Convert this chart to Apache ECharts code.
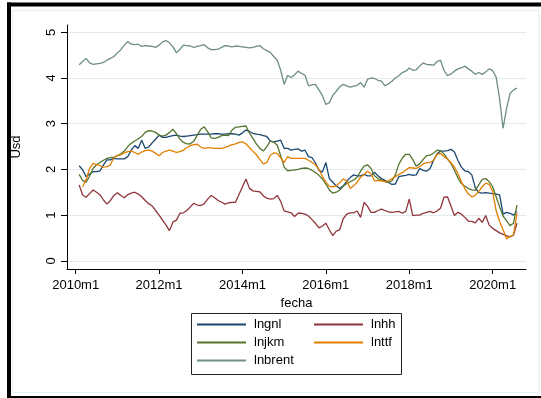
<!DOCTYPE html>
<html>
<head>
<meta charset="utf-8">
<script src="https://cdn.jsdelivr.net/npm/echarts@6/dist/echarts.min.js"></script>
<style>
  html, body { margin: 0; padding: 0; background: #fff; }
  #chart { width: 541px; height: 398px; }
</style>
</head>
<body>
<div id="chart"></div>
<script>
// Monthly log prices; month index counted from 2010m1 = 0, first observation 2010m2
const firstMonth = 1;

const lngnl = [
  2.08, 1.99, 1.84, 1.90, 1.95, 1.95, 1.97, 2.10, 2.21, 2.21,
  2.24, 2.23, 2.23, 2.23, 2.28, 2.42, 2.52, 2.46, 2.64, 2.46,
  2.49, 2.58, 2.66, 2.75, 2.70, 2.70, 2.72, 2.74, 2.75, 2.73,
  2.72, 2.73, 2.74, 2.75, 2.76, 2.77, 2.77, 2.77, 2.77, 2.78,
  2.78, 2.77, 2.77, 2.78, 2.78, 2.77, 2.75, 2.80, 2.86, 2.83,
  2.79, 2.77, 2.76, 2.74, 2.72, 2.62, 2.60, 2.62, 2.64, 2.46,
  2.46, 2.42, 2.44, 2.45, 2.40, 2.42, 2.28, 2.26, 2.14, 1.98,
  1.94, 2.15, 1.80, 1.72, 1.64, 1.58, 1.64, 1.74, 1.82, 1.88,
  1.86, 1.86, 1.89, 1.86, 1.86, 1.94, 1.86, 1.80, 1.76, 1.72,
  1.67, 1.68, 1.84, 1.86, 1.87, 1.89, 1.87, 1.88, 2.02, 1.98,
  1.96, 2.02, 2.20, 2.34, 2.40, 2.40, 2.41, 2.44, 2.38, 2.20,
  2.05, 1.97, 1.95, 1.88, 1.60, 1.49, 1.48, 1.49, 1.48, 1.47,
  1.46, 1.44, 1.02, 1.06, 1.04, 1.00, 1.08
];

const lnhh = [
  1.66, 1.44, 1.39, 1.47, 1.55, 1.50, 1.44, 1.33, 1.24, 1.32,
  1.43, 1.49, 1.43, 1.38, 1.45, 1.48, 1.50, 1.46, 1.40, 1.32,
  1.25, 1.20, 1.10, 1.00, 0.89, 0.78, 0.66, 0.85, 0.89, 1.04,
  1.05, 1.10, 1.18, 1.26, 1.22, 1.21, 1.25, 1.35, 1.43, 1.38,
  1.32, 1.28, 1.24, 1.27, 1.28, 1.28, 1.45, 1.62, 1.79, 1.59,
  1.53, 1.52, 1.51, 1.42, 1.37, 1.35, 1.36, 1.43, 1.30, 1.09,
  1.07, 1.05, 0.97, 1.04, 1.04, 1.02, 0.98, 0.90, 0.82, 0.72,
  0.76, 0.82, 0.68, 0.55, 0.65, 0.68, 0.92, 1.02, 1.05, 1.05,
  1.09, 0.95, 1.28, 1.19, 1.06, 1.06, 1.10, 1.13, 1.10, 1.07,
  1.06, 1.07, 1.08, 1.04, 1.08, 1.35, 0.99, 1.00, 1.00, 1.04,
  1.06, 1.08, 1.05, 1.09, 1.15, 1.39, 1.40, 1.20, 0.99, 1.06,
  1.02, 0.95, 0.87, 0.86, 0.83, 0.93, 0.84, 0.99, 0.78, 0.71,
  0.66, 0.61, 0.58, 0.55, 0.52, 0.56, 0.82
];

const lnjkm = [
  1.89, 1.76, 1.72, 1.85, 2.02, 2.10, 2.15, 2.20, 2.24, 2.26,
  2.27, 2.30, 2.34, 2.40, 2.50, 2.57, 2.62, 2.67, 2.72, 2.81,
  2.85, 2.84, 2.81, 2.75, 2.73, 2.75, 2.81, 2.88, 2.78, 2.66,
  2.59, 2.56, 2.56, 2.62, 2.75, 2.88, 2.93, 2.82, 2.69, 2.68,
  2.70, 2.74, 2.75, 2.74, 2.86, 2.92, 2.93, 2.94, 2.95, 2.80,
  2.68, 2.56, 2.46, 2.40, 2.50, 2.62, 2.60, 2.53, 2.30, 2.05,
  1.97, 1.98, 1.99, 2.00, 2.02, 2.03, 2.02, 1.98, 1.93, 1.87,
  1.79, 1.68, 1.55, 1.48, 1.50, 1.55, 1.63, 1.69, 1.73, 1.77,
  1.83, 1.96, 2.07, 2.10, 2.02, 1.86, 1.80, 1.77, 1.73, 1.71,
  1.75, 1.88, 2.11, 2.25, 2.33, 2.33, 2.22, 2.07, 2.12, 2.22,
  2.30, 2.31, 2.36, 2.42, 2.41, 2.34, 2.23, 2.13, 1.98, 1.82,
  1.69, 1.63, 1.58, 1.55, 1.54, 1.66, 1.78, 1.80, 1.73, 1.62,
  1.40, 1.18, 0.98, 0.88, 0.77, 0.82, 1.22
];

const lnttf = [
  null, 1.62, 1.78, 2.02, 2.13, 2.11, 2.08, 2.05, 2.06, 2.10,
  2.26, 2.30, 2.32, 2.36, 2.39, 2.40, 2.37, 2.33, 2.38, 2.41,
  2.42, 2.40, 2.35, 2.30, 2.37, 2.40, 2.42, 2.40, 2.37, 2.39,
  2.42, 2.48, 2.52, 2.54, 2.55, 2.49, 2.46, 2.47, 2.47, 2.46,
  2.46, 2.46, 2.48, 2.51, 2.54, 2.56, 2.59, 2.60, 2.56, 2.48,
  2.40, 2.32, 2.22, 2.12, 2.15, 2.31, 2.36, 2.35, 2.25, 2.15,
  2.28, 2.24, 2.24, 2.24, 2.24, 2.24, 2.20, 2.15, 2.10, 2.00,
  1.85, 1.72, 1.63, 1.62, 1.64, 1.71, 1.79, 1.75, 1.58, 1.64,
  1.72, 1.83, 1.89, 1.96, 1.90, 1.75, 1.76, 1.75, 1.73, 1.75,
  1.80, 1.84, 1.89, 1.93, 1.98, 2.04, 2.03, 2.02, 2.06, 2.12,
  2.15, 2.15, 2.20, 2.33, 2.35, 2.28, 2.22, 2.15, 2.05, 1.91,
  1.73, 1.58, 1.46, 1.40, 1.43, 1.52, 1.62, 1.70, 1.67, 1.52,
  1.10, 0.86, 0.68, 0.48, 0.53, 0.57, 1.04
];

const lnbrent = [
  4.29, 4.36, 4.43, 4.33, 4.30, 4.31, 4.32, 4.34, 4.39, 4.43,
  4.47, 4.55, 4.62, 4.72, 4.80, 4.74, 4.73, 4.74, 4.69, 4.71,
  4.70, 4.69, 4.67, 4.72, 4.79, 4.82, 4.77, 4.68, 4.55, 4.63,
  4.72, 4.71, 4.70, 4.67, 4.69, 4.71, 4.73, 4.66, 4.62, 4.62,
  4.63, 4.67, 4.71, 4.70, 4.68, 4.70, 4.69, 4.68, 4.67, 4.66,
  4.67, 4.69, 4.71, 4.64, 4.60, 4.56, 4.47, 4.39, 4.17, 3.86,
  4.06, 4.01, 4.07, 4.15, 4.10, 4.06, 3.83, 3.85, 3.86, 3.74,
  3.62, 3.42, 3.46, 3.62, 3.71, 3.81, 3.86, 3.83, 3.80, 3.82,
  3.84, 3.90, 3.80, 3.97, 4.00, 3.99, 3.95, 3.93, 3.83, 3.87,
  3.93, 4.00, 4.05, 4.12, 4.15, 4.22, 4.17, 4.18, 4.26, 4.33,
  4.30, 4.29, 4.28, 4.36, 4.39, 4.17, 4.05, 4.09, 4.15, 4.20,
  4.22, 4.26, 4.20, 4.15, 4.08, 4.12, 4.08, 4.13, 4.20, 4.16,
  4.02, 3.55, 2.90, 3.33, 3.66, 3.74, 3.78
];

const seriesNames = ['lngnl', 'lnhh', 'lnjkm', 'lnttf', 'lnbrent'];
const seriesValues = [lngnl, lnhh, lnjkm, lnttf, lnbrent];
const seriesColors = ['#1a476f', '#90353b', '#55752f', '#e37e00', '#6e8e84'];

const xTickMonths = [0, 24, 48, 72, 96, 120];
const xTickLabels = ['2010m1', '2012m1', '2014m1', '2016m1', '2018m1', '2020m1'];
const yTicks = [0, 1, 2, 3, 4, 5];

const FONT = 'Liberation Sans, Arial, Helvetica, sans-serif';

const chart = echarts.init(document.getElementById('chart'), null, { renderer: 'canvas' });

const series = seriesNames.map((name, k) => ({
  name: name,
  type: 'line',
  symbol: 'none',
  smooth: false,
  connectNulls: false,
  lineStyle: { color: seriesColors[k], width: 1.3 },
  itemStyle: { color: seriesColors[k] },
  emphasis: { disabled: true },
  data: seriesValues[k].map((v, i) => [firstMonth + i, v])
}));

const legendText = { fontFamily: FONT, fontSize: 13, color: '#000', padding: [0, 0, 0, 3] };

// legend keys are drawn as thin coloured bars
const legendCommon = {
  orient: 'vertical',
  top: 318,
  padding: 0,
  icon: 'rect',
  itemWidth: 49, itemHeight: 2, itemGap: 5,
  textStyle: legendText,
  selectedMode: false
};

chart.setOption({
  animation: false,
  backgroundColor: '#fff',
  grid: { left: 67, right: 15, top: 25, bottom: 129, containLabel: false },
  xAxis: {
    type: 'value',
    min: -2.5,
    max: 129.6,
    name: 'fecha',
    nameLocation: 'middle',
    nameGap: 23,
    nameTextStyle: { fontFamily: FONT, fontSize: 13, color: '#000' },
    axisLine: { show: true, onZero: false, lineStyle: { color: '#000', width: 1 } },
    axisTick: { show: true, length: 5, customValues: xTickMonths, lineStyle: { color: '#000' } },
    axisLabel: {
      customValues: xTickMonths,
      margin: 10,
      fontFamily: FONT, fontSize: 13, color: '#000',
      formatter: v => xTickLabels[xTickMonths.indexOf(v)]
    },
    splitLine: { show: false }
  },
  yAxis: {
    type: 'value',
    min: -0.18,
    max: 5.16,
    name: 'Usd',
    nameLocation: 'middle',
    nameGap: 44,
    nameRotate: 90,
    nameTextStyle: { fontFamily: FONT, fontSize: 13, color: '#000' },
    axisLine: { show: true, onZero: false, lineStyle: { color: '#000', width: 1 } },
    axisTick: { show: true, length: 6, customValues: yTicks, lineStyle: { color: '#000' } },
    axisLabel: {
      customValues: yTicks,
      rotate: 90,
      margin: 9,
      fontFamily: FONT, fontSize: 13, color: '#000'
    },
    splitLine: { show: true, lineStyle: { color: '#e3ebee', width: 1 } }
  },
  legend: [
    Object.assign({ data: ['lngnl', 'lnjkm', 'lnbrent'], left: 197 }, legendCommon),
    Object.assign({ data: ['lnhh', 'lnttf'], left: 314 }, legendCommon)
  ],
  graphic: [
    // faint inner frame of the graph region
    { type: 'rect', silent: true, z: -1,
      shape: { x: 12.5, y: 10.5, width: 526.5, height: 382 },
      style: { fill: null, stroke: '#e9eef0', lineWidth: 1 } },
    // outer black frame
    { type: 'rect', silent: true, shape: { x: 7, y: 2.5, width: 534, height: 4 }, style: { fill: '#000' } },
    { type: 'rect', silent: true, shape: { x: 7, y: 2.5, width: 4, height: 396 }, style: { fill: '#000' } },
    { type: 'rect', silent: true, shape: { x: 7, y: 396, width: 534, height: 2 }, style: { fill: '#000' } },
    // legend box
    { type: 'rect', silent: true,
      shape: { x: 191.5, y: 313.5, width: 210, height: 61 },
      style: { fill: null, stroke: '#222', lineWidth: 1 } }
  ],
  series: series
});
</script>
</body>
</html>
